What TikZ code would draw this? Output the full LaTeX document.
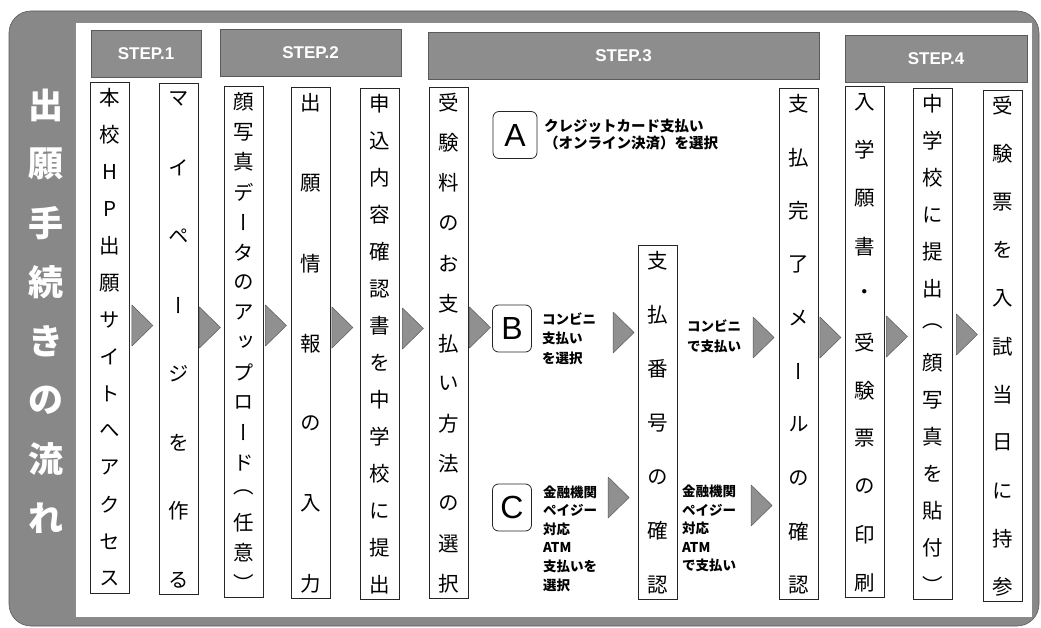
\documentclass[tikz,border=0pt]{standalone}
\usepackage{fontspec}
\setmainfont{Noto Sans CJK JP}
\newfontfamily\vertjp[RawFeature=+vert]{Noto Sans CJK JP}
\newfontfamily\latinsf{Liberation Sans}
\usetikzlibrary{calc}
\usetikzlibrary{positioning}
\definecolor{framegray}{HTML}{888888}
\definecolor{headgray}{HTML}{8D8D8D}
\definecolor{edgegray}{HTML}{5A5A5A}
\definecolor{trigray}{HTML}{909090}

% column text, spread from top to bottom
\newcommand\coltext[3]{%
  \coordinate (#1-t) at ([yshift=-16pt]#1.north);
  \coordinate (#1-b) at ([yshift=15pt]#1.south);
  \foreach \ch [count=\i] in {#3}
    \node[coltxt] (#1-\i) at ($(#1-t)!{(\i-1)/(#2-1)}!(#1-b)$) {\ch};
}
\newcommand\flowtri[1]{\draw[tri] #1 -- ++(21,20.5) -- ++(-21,20.5) -- cycle;}

\begin{document}
\begin{tikzpicture}[x=1pt,y=-1pt]
			\tikzset{col/.style={draw=black!85,fill=white,line width=0.8pt,minimum width=39pt,minimum height=511pt,inner sep=0pt,anchor=north}}
			\tikzset{coltxt/.style={font=\vertjp\fontsize{20.5}{20.5}\selectfont,inner sep=0pt}}
			\tikzset{stephead/.style={fill=headgray,draw=edgegray,line width=0.6pt,minimum height=47pt,inner sep=0pt,text=white,font=\latinsf\bfseries\fontsize{17}{17}\selectfont}}
			\tikzset{choice/.style={draw=black!85,fill=white,line width=0.8pt,rounded corners=6pt,minimum width=39pt,minimum height=47pt,inner sep=0pt,font=\latinsf\fontsize{32}{32}\selectfont}}
			\tikzset{note/.style={anchor=west,align=left,inner sep=0pt,font=\bfseries\fontsize{13.5}{19.5}\selectfont}}
			\tikzset{tri/.style={fill=trigray,draw=edgegray,line width=0.5pt,line join=round}}
			\tikzset{titlechar/.style={text=white,inner sep=0pt,font=\bfseries\fontsize{35}{35}\selectfont}}
			\useasboundingbox (0,0) rectangle (1041,628);
			% Frame
			\filldraw[fill=framegray,draw=edgegray,line width=0.6pt,rounded corners=22pt] (9,11) rectangle (1039,626);
			\filldraw[fill=white,draw=edgegray!70,line width=0.5pt] (75,22) rectangle (1032,617);
			\foreach \ch [count=\i] in {出,願,手,続,き,の,流,れ}
				\node[titlechar] (title-\i) at (46,{105+(\i-1)*59}) {\ch};
			% Step headers
			\node[stephead,minimum width=110pt] (s1) at (146,53.5) {STEP.1};
			\node[stephead,minimum width=181pt] (s2) at (310.5,52.5) {STEP.2};
			\node[stephead,minimum width=391pt] (s3) at (623.5,56) {STEP.3};
			\node[stephead,minimum width=182pt] (s4) at (936,58.5) {STEP.4};
			% Place Nodes
			\node[col] (c1) at (110,82) {};
			\node[col] (c2) at (178.5,83) {};
			\node[col] (c3) at (243.5,86) {};
			\node[col] (c4) at (311,87) {};
			\node[col] (c5) at (379.5,88) {};
			\node[col] (c6) at (448.5,87) {};
			\node[col,minimum height=354pt] (c7) at (658,245) {};
			\node[col] (c8) at (799,88) {};
			\node[col] (c9) at (864.5,86) {};
			\node[col] (c10) at (932.5,88) {};
			\node[col] (c11) at (1003,90) {};
			% Column texts
			\coltext{c1}{14}{本,校,H,P,出,願,サ,イ,ト,へ,ア,ク,セ,ス}
			\coltext{c2}{8}{マ,イ,ペ,ー,ジ,を,作,る}
			\coltext{c3}{17}{顔,写,真,デ,ー,タ,の,ア,ッ,プ,ロ,ー,ド,（,任,意,）}
			\coltext{c4}{7}{出,願,情,報,の,入,力}
			\coltext{c5}{14}{申,込,内,容,確,認,書,を,中,学,校,に,提,出}
			\coltext{c6}{13}{受,験,料,の,お,支,払,い,方,法,の,選,択}
			\coltext{c7}{7}{支,払,番,号,の,確,認}
			\coltext{c8}{10}{支,払,完,了,メ,ー,ル,の,確,認}
			\coltext{c9}{11}{入,学,願,書,・,受,験,票,の,印,刷}
			\coltext{c10}{14}{中,学,校,に,提,出,（,顔,写,真,を,貼,付,）}
			\coltext{c11}{11}{受,験,票,を,入,試,当,日,に,持,参}
			% Payment choices
			\node[choice,minimum width=44pt] (A) at (515,135) {A};
			\node[choice] (B) at (512,328.5) {B};
			\node[choice] (C) at (512,507.5) {C};
			\node[note,font=\bfseries\fontsize{14.5}{17}\selectfont] (A-text) at (544,134.5) {クレジットカード支払い\\（オンライン決済）を選択};
			\node[note] (B-text) at (542,338.5) {コンビニ\\支払い\\を選択};
			\node[note] (B-pay) at (687,336.5) {コンビニ\\で支払い};
			\node[note,font=\bfseries\fontsize{13.5}{18.6}\selectfont] (C-text) at (543,538.5) {金融機関\\ペイジー\\対応\\ATM\\支払いを\\選択};
			\node[note,font=\bfseries\fontsize{13.5}{18.6}\selectfont] (C-pay) at (682,528.5) {金融機関\\ペイジー\\対応\\ATM\\で支払い};
			% Flow arrows
			\foreach \n/\dx/\yy in {c1.east/2/305,c2.east/1/307,c3.east/2/305,c4.east/1/307,c5.east/3/308,c6.east/1/307,
				c7.west/-25/312,c8.west/-26/317,c7.west/-30/477,c8.west/-28/485,c8.east/1/317,c9.east/2/316,c10.east/4/314}
				{\flowtri{($(\n |- 0,\yy)+(\dx,0)$)}}
\end{tikzpicture}
\end{document}
